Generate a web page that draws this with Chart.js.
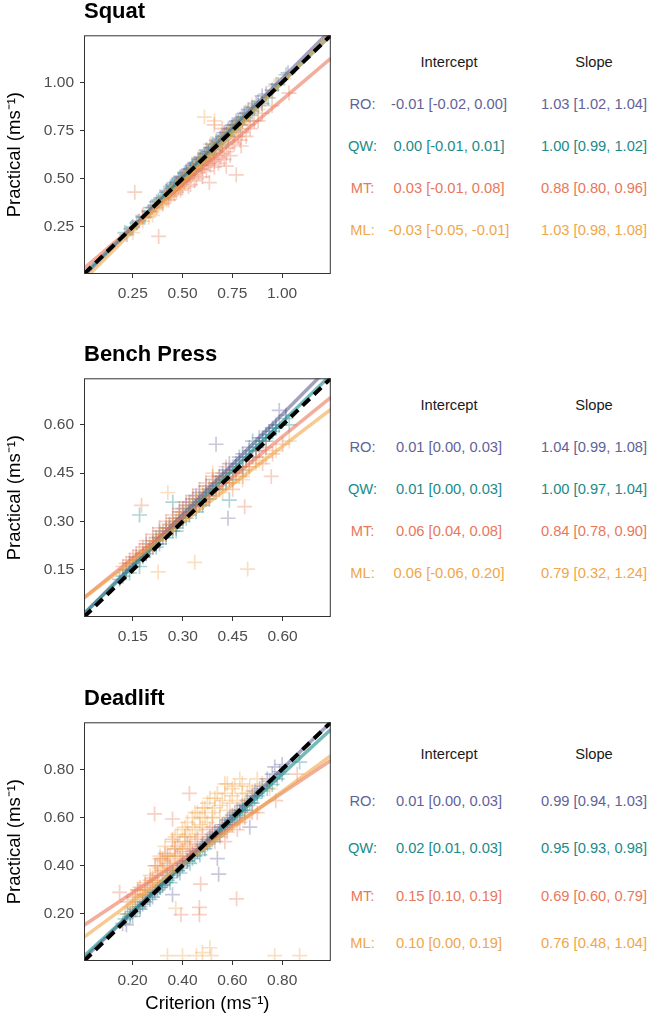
<!DOCTYPE html>
<html><head><meta charset="utf-8">
<script src="https://cdn.jsdelivr.net/npm/chart.js@4.4.1/dist/chart.umd.min.js"></script>
<style>
body{margin:0;background:#fff;width:647px;height:1015px;position:relative;overflow:hidden;font-family:"Liberation Sans",Arial,sans-serif}
canvas{position:absolute;left:0}
.t{position:absolute;white-space:nowrap;line-height:17px;font-size:14.7px;transform:translateX(-50%)}
.ttl{position:absolute;left:84px;font-weight:bold;font-size:22px;line-height:24px;color:#000;white-space:nowrap}
</style></head><body>
<script>
// ---------- DATA ----------
const methods = ['RO', 'QW', 'MT', 'ML'];
const methodColors = ['#62629a', '#1b8a8a', '#e9775b', '#f0a64a'];

// Squat
const squatLimits = [0.005, 1.245];
const squatTicks = [0.25, 0.50, 0.75, 1.00];
const squatIntercept = [-0.01, 0.00, 0.03, -0.03];
const squatSlope = [1.03, 1.00, 0.88, 1.03];
const squatInterceptText = ['-0.01 [-0.02, 0.00]', '0.00 [-0.01, 0.01]', '0.03 [-0.01, 0.08]', '-0.03 [-0.05, -0.01]'];
const squatSlopeText = ['1.03 [1.02, 1.04]', '1.00 [0.99, 1.02]', '0.88 [0.80, 0.96]', '1.03 [0.98, 1.08]'];
const squatRO = [[0.22,0.21],[0.25,0.25],[0.28,0.28],[0.30,0.30],[0.33,0.33],[0.35,0.35],[0.37,0.38],[0.39,0.40],[0.41,0.41],[0.42,0.44],[0.44,0.45],[0.45,0.47],[0.47,0.48],[0.48,0.49],[0.50,0.51],[0.51,0.53],[0.52,0.54],[0.54,0.55],[0.55,0.57],[0.57,0.58],[0.58,0.60],[0.60,0.61],[0.61,0.63],[0.63,0.64],[0.64,0.66],[0.66,0.67],[0.68,0.69],[0.70,0.72],[0.72,0.74],[0.74,0.76],[0.76,0.78],[0.78,0.80],[0.80,0.82],[0.82,0.84],[0.85,0.87],[0.88,0.90],[0.92,0.94],[0.97,0.99],[1.03,1.05],
  [0.43,0.43],[0.46,0.48],[0.49,0.51],[0.53,0.55],[0.56,0.58],[0.59,0.61],[0.62,0.65],[0.65,0.68],[0.67,0.70],[0.69,0.71],[0.71,0.74],[0.73,0.76],[0.75,0.78],[0.77,0.80],[0.79,0.81],[0.81,0.84],[0.83,0.86],[0.87,0.89],[0.90,0.93],[0.50,0.50],[0.52,0.52],[0.57,0.57],[0.62,0.62]];
const squatQW = [[0.21,0.22],[0.24,0.24],[0.27,0.27],[0.31,0.30],[0.34,0.35],[0.36,0.36],[0.38,0.39],[0.40,0.40],[0.43,0.42],[0.44,0.46],[0.46,0.46],[0.48,0.50],[0.50,0.49],[0.52,0.53],[0.53,0.52],[0.55,0.56],[0.56,0.54],[0.58,0.59],[0.60,0.59],[0.62,0.63],[0.64,0.63],[0.65,0.66],[0.67,0.68],[0.69,0.68],[0.71,0.72],[0.73,0.72],[0.75,0.76],[0.77,0.78],[0.79,0.78],[0.81,0.82],[0.84,0.83],[0.86,0.87],[0.90,0.89],[0.95,0.96],[1.02,1.04],
  [0.42,0.43],[0.45,0.45],[0.47,0.47],[0.49,0.48],[0.51,0.51],[0.54,0.55],[0.57,0.57],[0.59,0.60],[0.61,0.61],[0.63,0.64],[0.66,0.65],[0.68,0.69],[0.70,0.70],[0.72,0.73],[0.74,0.74],[0.76,0.75],[0.78,0.79],[0.80,0.80],[0.83,0.84],[0.85,0.85],[0.88,0.88],[0.93,0.92],[0.98,0.99]];
const squatMT = [[0.26,0.43],[0.38,0.20],[0.30,0.31],[0.34,0.33],[0.37,0.35],[0.40,0.37],[0.42,0.40],[0.44,0.41],[0.45,0.44],[0.47,0.43],[0.48,0.46],[0.50,0.45],[0.51,0.48],[0.52,0.50],[0.54,0.47],[0.55,0.52],[0.56,0.49],[0.58,0.53],[0.59,0.55],[0.60,0.51],[0.61,0.57],[0.62,0.54],[0.63,0.58],[0.635,0.48],[0.65,0.60],[0.66,0.56],[0.67,0.62],[0.68,0.58],[0.70,0.63],[0.71,0.60],[0.72,0.565],[0.73,0.66],[0.74,0.62],[0.75,0.69],[0.77,0.52],[0.78,0.72],[0.795,0.67],[0.80,0.74],[0.83,0.78],[0.86,0.80],[0.90,0.84],[0.95,0.88],[1.035,0.945],[0.66,0.78],[0.70,0.76],
  [0.43,0.39],[0.46,0.42],[0.49,0.44],[0.53,0.46],[0.57,0.50],[0.60,0.55],[0.64,0.57],[0.66,0.59],[0.69,0.61],[0.72,0.64],[0.76,0.68],[0.79,0.70],[0.82,0.72],[0.84,0.76],[0.88,0.80],[0.70,0.67],[0.62,0.60],[0.55,0.55],[0.50,0.50]];
const squatML = [[0.25,0.22],[0.30,0.28],[0.33,0.30],[0.35,0.31],[0.36,0.34],[0.38,0.36],[0.40,0.37],[0.41,0.40],[0.43,0.41],[0.44,0.43],[0.46,0.44],[0.47,0.46],[0.49,0.47],[0.50,0.49],[0.52,0.50],[0.53,0.53],[0.55,0.54],[0.56,0.55],[0.58,0.57],[0.59,0.59],[0.61,0.60],[0.62,0.62],[0.64,0.63],[0.65,0.65],[0.67,0.66],[0.68,0.69],[0.70,0.70],[0.72,0.72],[0.74,0.73],[0.76,0.77],[0.78,0.79],[0.80,0.80],[0.83,0.84],[0.66,0.80],[0.61,0.82],[0.85,0.88],[0.88,0.86],[0.92,0.93],[0.96,0.98],[1.01,1.02],
  [0.37,0.35],[0.39,0.38],[0.42,0.39],[0.45,0.45],[0.48,0.45],[0.51,0.51],[0.54,0.52],[0.57,0.56],[0.60,0.58],[0.63,0.61],[0.66,0.64],[0.69,0.67],[0.71,0.71],[0.73,0.75],[0.75,0.74],[0.77,0.76],[0.79,0.78],[0.82,0.81],[0.64,0.68],[0.58,0.61]];

// Bench Press
const benchLimits = [0.003, 0.745];
const benchTicks = [0.15, 0.30, 0.45, 0.60];
const benchIntercept = [0.01, 0.01, 0.06, 0.06];
const benchSlope = [1.04, 1.00, 0.84, 0.79];
const benchInterceptText = ['0.01 [0.00, 0.03]', '0.01 [0.00, 0.03]', '0.06 [0.04, 0.08]', '0.06 [-0.06, 0.20]'];
const benchSlopeText = ['1.04 [0.99, 1.08]', '1.00 [0.97, 1.04]', '0.84 [0.78, 0.90]', '0.79 [0.32, 1.24]'];
const benchRO = [[0.11,0.12],[0.13,0.15],[0.15,0.16],[0.16,0.19],[0.18,0.20],[0.19,0.23],[0.21,0.22],[0.22,0.25],[0.23,0.27],[0.25,0.26],[0.26,0.29],[0.27,0.31],[0.28,0.28],[0.29,0.33],[0.30,0.31],[0.31,0.35],[0.32,0.33],[0.33,0.37],[0.34,0.35],[0.35,0.39],[0.36,0.36],[0.37,0.41],[0.38,0.38],[0.39,0.43],[0.40,0.54],[0.40,0.41],[0.42,0.45],[0.43,0.42],[0.436,0.31],[0.44,0.48],[0.45,0.46],[0.47,0.50],[0.48,0.47],[0.50,0.53],[0.51,0.50],[0.53,0.56],[0.55,0.57],[0.57,0.59],[0.59,0.645],[0.61,0.63],
  [0.14,0.17],[0.17,0.18],[0.20,0.21],[0.22,0.23],[0.24,0.25],[0.25,0.28],[0.27,0.28],[0.29,0.31],[0.30,0.34],[0.32,0.36],[0.34,0.38],[0.35,0.36],[0.37,0.39],[0.39,0.40],[0.41,0.44],[0.43,0.46],[0.46,0.48],[0.48,0.51],[0.52,0.52],[0.54,0.55],[0.56,0.58],[0.58,0.60]];
const benchQW = [[0.12,0.13],[0.14,0.14],[0.15,0.17],[0.17,0.32],[0.17,0.16],[0.18,0.19],[0.20,0.21],[0.21,0.24],[0.23,0.23],[0.24,0.26],[0.25,0.25],[0.26,0.28],[0.27,0.36],[0.28,0.27],[0.29,0.30],[0.30,0.32],[0.31,0.31],[0.32,0.34],[0.34,0.33],[0.35,0.37],[0.36,0.35],[0.37,0.39],[0.38,0.37],[0.40,0.42],[0.41,0.40],[0.42,0.44],[0.44,0.366],[0.44,0.45],[0.45,0.43],[0.47,0.49],[0.48,0.46],[0.50,0.52],[0.51,0.55],[0.53,0.54],[0.55,0.55],[0.57,0.58],[0.59,0.60],[0.61,0.62],[0.62,0.60],
  [0.13,0.15],[0.16,0.18],[0.19,0.20],[0.22,0.22],[0.23,0.25],[0.25,0.27],[0.27,0.27],[0.28,0.29],[0.30,0.30],[0.32,0.32],[0.33,0.35],[0.35,0.35],[0.37,0.37],[0.38,0.40],[0.40,0.40],[0.43,0.43],[0.46,0.47],[0.49,0.50],[0.52,0.53],[0.54,0.56],[0.56,0.57],[0.58,0.59]];
const benchMT = [[0.12,0.16],[0.14,0.18],[0.15,0.19],[0.176,0.35],[0.17,0.21],[0.18,0.20],[0.19,0.24],[0.20,0.22],[0.21,0.26],[0.22,0.24],[0.23,0.28],[0.24,0.26],[0.25,0.30],[0.26,0.28],[0.27,0.32],[0.28,0.30],[0.29,0.34],[0.30,0.31],[0.31,0.36],[0.32,0.33],[0.33,0.38],[0.34,0.35],[0.35,0.40],[0.36,0.36],[0.37,0.42],[0.38,0.38],[0.39,0.44],[0.40,0.40],[0.42,0.42],[0.43,0.47],[0.44,0.43],[0.45,0.40],[0.46,0.45],[0.486,0.346],[0.48,0.44],[0.50,0.47],[0.52,0.50],[0.54,0.48],[0.566,0.44],[0.57,0.51],[0.60,0.54],
  [0.13,0.17],[0.16,0.20],[0.18,0.22],[0.21,0.23],[0.23,0.25],[0.25,0.28],[0.27,0.29],[0.29,0.31],[0.30,0.33],[0.32,0.35],[0.34,0.37],[0.36,0.38],[0.38,0.40],[0.40,0.42],[0.41,0.44],[0.44,0.45],[0.47,0.47],[0.49,0.49],[0.53,0.52],[0.55,0.53]];
const benchML = [[0.13,0.15],[0.15,0.17],[0.17,0.19],[0.19,0.21],[0.20,0.23],[0.22,0.24],[0.226,0.143],[0.23,0.26],[0.24,0.27],[0.255,0.39],[0.26,0.29],[0.27,0.28],[0.28,0.31],[0.29,0.30],[0.30,0.33],[0.31,0.32],[0.32,0.35],[0.33,0.34],[0.336,0.173],[0.34,0.37],[0.35,0.36],[0.36,0.39],[0.37,0.38],[0.38,0.41],[0.39,0.45],[0.40,0.40],[0.41,0.43],[0.42,0.39],[0.43,0.44],[0.45,0.42],[0.46,0.45],[0.48,0.43],[0.495,0.152],[0.50,0.47],[0.52,0.48],[0.55,0.50],[0.58,0.52],[0.62,0.55],
  [0.16,0.18],[0.18,0.20],[0.21,0.22],[0.23,0.24],[0.25,0.26],[0.27,0.30],[0.29,0.32],[0.30,0.31],[0.32,0.33],[0.34,0.35],[0.36,0.37],[0.38,0.38],[0.40,0.42],[0.42,0.43],[0.44,0.42],[0.47,0.44],[0.49,0.46],[0.53,0.49]];

// Deadlift
const deadLimits = [0.005, 0.995];
const deadTicks = [0.20, 0.40, 0.60, 0.80];
const deadIntercept = [0.01, 0.02, 0.15, 0.10];
const deadSlope = [0.99, 0.95, 0.69, 0.76];
const deadInterceptText = ['0.01 [0.00, 0.03]', '0.02 [0.01, 0.03]', '0.15 [0.10, 0.19]', '0.10 [0.00, 0.19]'];
const deadSlopeText = ['0.99 [0.94, 1.03]', '0.95 [0.93, 0.98]', '0.69 [0.60, 0.79]', '0.76 [0.48, 1.04]'];
const deadRO = [[0.16,0.16],[0.175,0.155],[0.19,0.20],[0.21,0.22],[0.23,0.23],[0.25,0.25],[0.27,0.28],[0.29,0.29],[0.31,0.31],[0.33,0.33],[0.34,0.36],[0.36,0.28],[0.36,0.37],[0.38,0.38],[0.40,0.41],[0.42,0.42],[0.44,0.45],[0.46,0.46],[0.48,0.49],[0.50,0.50],[0.52,0.53],[0.54,0.43],[0.545,0.365],[0.55,0.56],[0.57,0.57],[0.59,0.60],[0.61,0.62],[0.63,0.63],[0.65,0.65],[0.67,0.56],[0.68,0.69],[0.70,0.70],[0.72,0.73],[0.75,0.75],[0.77,0.81],[0.79,0.79],[0.80,0.82],
  [0.20,0.19],[0.24,0.24],[0.28,0.27],[0.32,0.32],[0.35,0.35],[0.39,0.39],[0.43,0.44],[0.47,0.47],[0.51,0.52],[0.53,0.54],[0.56,0.57],[0.58,0.59],[0.60,0.61],[0.62,0.63],[0.64,0.65],[0.66,0.67],[0.69,0.71],[0.71,0.72],[0.74,0.76],[0.76,0.78]];
const deadQW = [[0.17,0.18],[0.18,0.20],[0.20,0.21],[0.22,0.23],[0.24,0.25],[0.26,0.27],[0.28,0.29],[0.30,0.30],[0.32,0.32],[0.34,0.34],[0.36,0.36],[0.38,0.38],[0.40,0.40],[0.42,0.42],[0.44,0.43],[0.46,0.46],[0.47,0.445],[0.48,0.48],[0.50,0.49],[0.52,0.51],[0.54,0.53],[0.56,0.55],[0.58,0.57],[0.60,0.59],[0.62,0.61],[0.64,0.63],[0.66,0.65],[0.68,0.66],[0.70,0.69],[0.72,0.71],[0.76,0.737],[0.78,0.76],[0.80,0.78],[0.87,0.83],
  [0.19,0.19],[0.23,0.22],[0.27,0.26],[0.31,0.31],[0.35,0.33],[0.39,0.37],[0.43,0.41],[0.45,0.44],[0.49,0.47],[0.51,0.50],[0.53,0.52],[0.55,0.53],[0.57,0.56],[0.59,0.58],[0.61,0.60],[0.63,0.62],[0.65,0.63],[0.67,0.66],[0.69,0.68],[0.74,0.72]];
const deadMT = [[0.148,0.29],[0.18,0.25],[0.20,0.27],[0.22,0.30],[0.24,0.28],[0.25,0.32],[0.27,0.34],[0.288,0.615],[0.29,0.40],[0.30,0.36],[0.31,0.43],[0.32,0.38],[0.33,0.45],[0.34,0.41],[0.36,0.594],[0.36,0.51],[0.37,0.44],[0.38,0.48],[0.394,0.197],[0.40,0.46],[0.41,0.52],[0.428,0.70],[0.43,0.47],[0.45,0.50],[0.468,0.197],[0.468,0.227],[0.473,0.324],[0.48,0.53],[0.50,0.51],[0.52,0.56],[0.55,0.52],[0.57,0.50],[0.60,0.57],[0.617,0.263],[0.62,0.55],[0.65,0.60],[0.68,0.62],[0.774,0.67],[0.86,0.78],
  [0.21,0.28],[0.23,0.31],[0.26,0.30],[0.28,0.35],[0.30,0.40],[0.32,0.43],[0.34,0.44],[0.35,0.40],[0.37,0.47],[0.39,0.43],[0.42,0.49],[0.44,0.46],[0.46,0.51],[0.49,0.48],[0.51,0.55],[0.53,0.50],[0.56,0.56],[0.58,0.54],[0.63,0.58],[0.70,0.62],[0.25,0.28],[0.29,0.33]];
const deadML = [[0.17,0.20],[0.19,0.23],[0.21,0.26],[0.22,0.30],[0.24,0.28],[0.25,0.33],[0.27,0.36],[0.28,0.31],[0.29,0.40],[0.30,0.37],[0.31,0.44],[0.32,0.42],[0.33,0.48],[0.34,0.027],[0.34,0.45],[0.35,0.39],[0.36,0.50],[0.37,0.47],[0.373,0.223],[0.38,0.53],[0.39,0.45],[0.40,0.027],[0.40,0.55],[0.41,0.50],[0.42,0.58],[0.43,0.52],[0.44,0.60],[0.45,0.55],[0.456,0.027],[0.46,0.62],[0.47,0.57],[0.48,0.04],[0.48,0.64],[0.49,0.60],[0.50,0.66],[0.51,0.06],[0.516,0.027],[0.52,0.62],[0.53,0.68],[0.55,0.65],[0.57,0.70],[0.58,0.63],[0.58,0.74],[0.60,0.72],[0.62,0.67],[0.63,0.76],[0.64,0.74],[0.66,0.70],[0.70,0.76],[0.75,0.72],[0.77,0.027],[0.87,0.027],
  [0.20,0.24],[0.23,0.27],[0.26,0.30],[0.28,0.34],[0.30,0.33],[0.31,0.39],[0.33,0.40],[0.34,0.38],[0.35,0.44],[0.36,0.42],[0.37,0.52],[0.38,0.44],[0.39,0.50],[0.40,0.47],[0.41,0.56],[0.42,0.53],[0.43,0.48],[0.44,0.56],[0.45,0.62],[0.46,0.52],[0.47,0.60],[0.48,0.56],[0.49,0.64],[0.50,0.58],[0.51,0.68],[0.52,0.60],[0.53,0.64],[0.54,0.70],[0.55,0.60],[0.56,0.67],[0.57,0.74],[0.59,0.66],[0.60,0.69],[0.61,0.73],[0.62,0.62],[0.64,0.70],[0.65,0.66],[0.67,0.73],[0.68,0.71],[0.72,0.74]];

// ---------- RENDERING ----------
function rgba(hex, a) {
  const n = parseInt(hex.slice(1), 16);
  return `rgba(${(n >> 16) & 255},${(n >> 8) & 255},${n & 255},${a})`;
}
const FONT = '"Liberation Sans", Arial, sans-serif';

const framePlugin = {
  id: 'frame',
  afterDatasetsDraw(chart) {
    const {ctx, chartArea: a} = chart;
    ctx.save();
    ctx.strokeStyle = '#333333';
    ctx.lineWidth = 1;
    ctx.strokeRect(a.left + 0.5, a.top + 0.5, a.right - a.left - 1, a.bottom - a.top - 1);
    ctx.restore();
  }
};

function makePanel(cfg) {
  const W = 340;
  const plotTop = cfg.plotTop, plotH = 246;
  const padTop = 8;
  const xAxisH = cfg.xTitle ? 54 : 40;
  const H = padTop + plotH + xAxisH + 1;
  const cv = document.createElement('canvas');
  cv.width = W; cv.height = H;
  cv.style.width = W + 'px'; cv.style.height = H + 'px';
  cv.style.top = (plotTop - padTop) + 'px';
  document.body.appendChild(cv);

  const [lo, hi] = cfg.limits;
  const datasets = [];
  datasets.push({
    type: 'line', data: [{x: lo, y: lo}, {x: hi, y: hi}],
    borderColor: '#000', borderWidth: 4, borderDash: [10, 6], pointRadius: 0, order: 0
  });
  methods.forEach((m, i) => {
    const a = cfg.intercept[i], b = cfg.slope[i];
    datasets.push({
      type: 'line', data: [{x: lo, y: a + b * lo}, {x: hi, y: a + b * hi}],
      borderColor: rgba(methodColors[i], 0.6), borderWidth: 3.5, pointRadius: 0, order: 1 + (3 - i) * 0.1
    });
  });
  methods.forEach((m, i) => {
    datasets.push({
      type: 'scatter', data: cfg.points[i].map(p => ({x: p[0], y: p[1]})),
      pointStyle: 'cross', pointRadius: 7.5, pointBorderWidth: 1.7,
      borderColor: rgba(methodColors[i], 0.35), backgroundColor: rgba(methodColors[i], 0.35),
      order: 2 + (3 - i) * 0.1
    });
  });

  const tickFmt = v => Number(v).toFixed(2);
  const common = (ticks) => ({
    type: 'linear', min: lo, max: hi,
    afterBuildTicks: s => { s.ticks = ticks.map(v => ({value: v})); },
    ticks: {autoSkip: false, maxRotation: 0, color: '#4d4d4d', padding: 6,
      font: {family: FONT, size: 15.5}, callback: tickFmt},
    grid: {display: true, drawOnChartArea: false, drawTicks: true, tickLength: 4, color: '#333333', lineWidth: 1},
    border: {display: false}
  });

  const xScale = common(cfg.ticks);
  xScale.afterFit = s => { s.height = xAxisH; };
  if (cfg.xTitle) {
    xScale.title = {display: true, text: cfg.xTitle, color: '#000', font: {family: FONT, size: 18.5}, padding: {top: 4, bottom: 0}};
  }
  const yScale = common(cfg.ticks);
  yScale.afterFit = s => { s.width = 84; };
  yScale.title = {display: true, text: 'Practical (ms⁻¹)', color: '#000', font: {family: FONT, size: 18.5}, padding: {top: 4, bottom: 4}};

  new Chart(cv, {
    data: {datasets},
    options: {
      responsive: false, animation: false, devicePixelRatio: 1,
      layout: {padding: {top: padTop, right: 9, bottom: 1, left: 0}},
      plugins: {legend: {display: false}, tooltip: {enabled: false}},
      scales: {x: xScale, y: yScale}
    },
    plugins: [framePlugin]
  });

  const t = document.createElement('div');
  t.className = 'ttl';
  t.textContent = cfg.title;
  t.style.top = (plotTop - 29) + 'px';
  document.body.appendChild(t);

  const addText = (txt, cx, cy, color) => {
    const d = document.createElement('div');
    d.className = 't';
    d.textContent = txt;
    d.style.left = cx + 'px';
    d.style.top = (cy - 8.4) + 'px';
    d.style.color = color;
    document.body.appendChild(d);
  };
  addText('Intercept', 449, cfg.tableTop, '#1a1a1a');
  addText('Slope', 594, cfg.tableTop, '#1a1a1a');
  methods.forEach((m, i) => {
    const y = cfg.tableTop + cfg.rowGap * (i + 1);
    addText(m + ':', 362.5, y, methodColors[i]);
    addText(cfg.interceptText[i], 449, y, methodColors[i]);
    addText(cfg.slopeText[i], 594, y, methodColors[i]);
  });
}

makePanel({title: 'Squat', plotTop: 28, limits: squatLimits, ticks: squatTicks,
  intercept: squatIntercept, slope: squatSlope, interceptText: squatInterceptText, slopeText: squatSlopeText,
  points: [squatRO, squatQW, squatMT, squatML], tableTop: 62, rowGap: 42});
makePanel({title: 'Bench Press', plotTop: 371, limits: benchLimits, ticks: benchTicks,
  intercept: benchIntercept, slope: benchSlope, interceptText: benchInterceptText, slopeText: benchSlopeText,
  points: [benchRO, benchQW, benchMT, benchML], tableTop: 405, rowGap: 42});
makePanel({title: 'Deadlift', plotTop: 715, limits: deadLimits, ticks: deadTicks,
  intercept: deadIntercept, slope: deadSlope, interceptText: deadInterceptText, slopeText: deadSlopeText,
  points: [deadRO, deadQW, deadMT, deadML], tableTop: 754, rowGap: 47.3, xTitle: 'Criterion (ms⁻¹)'});
</script>
</body></html>
